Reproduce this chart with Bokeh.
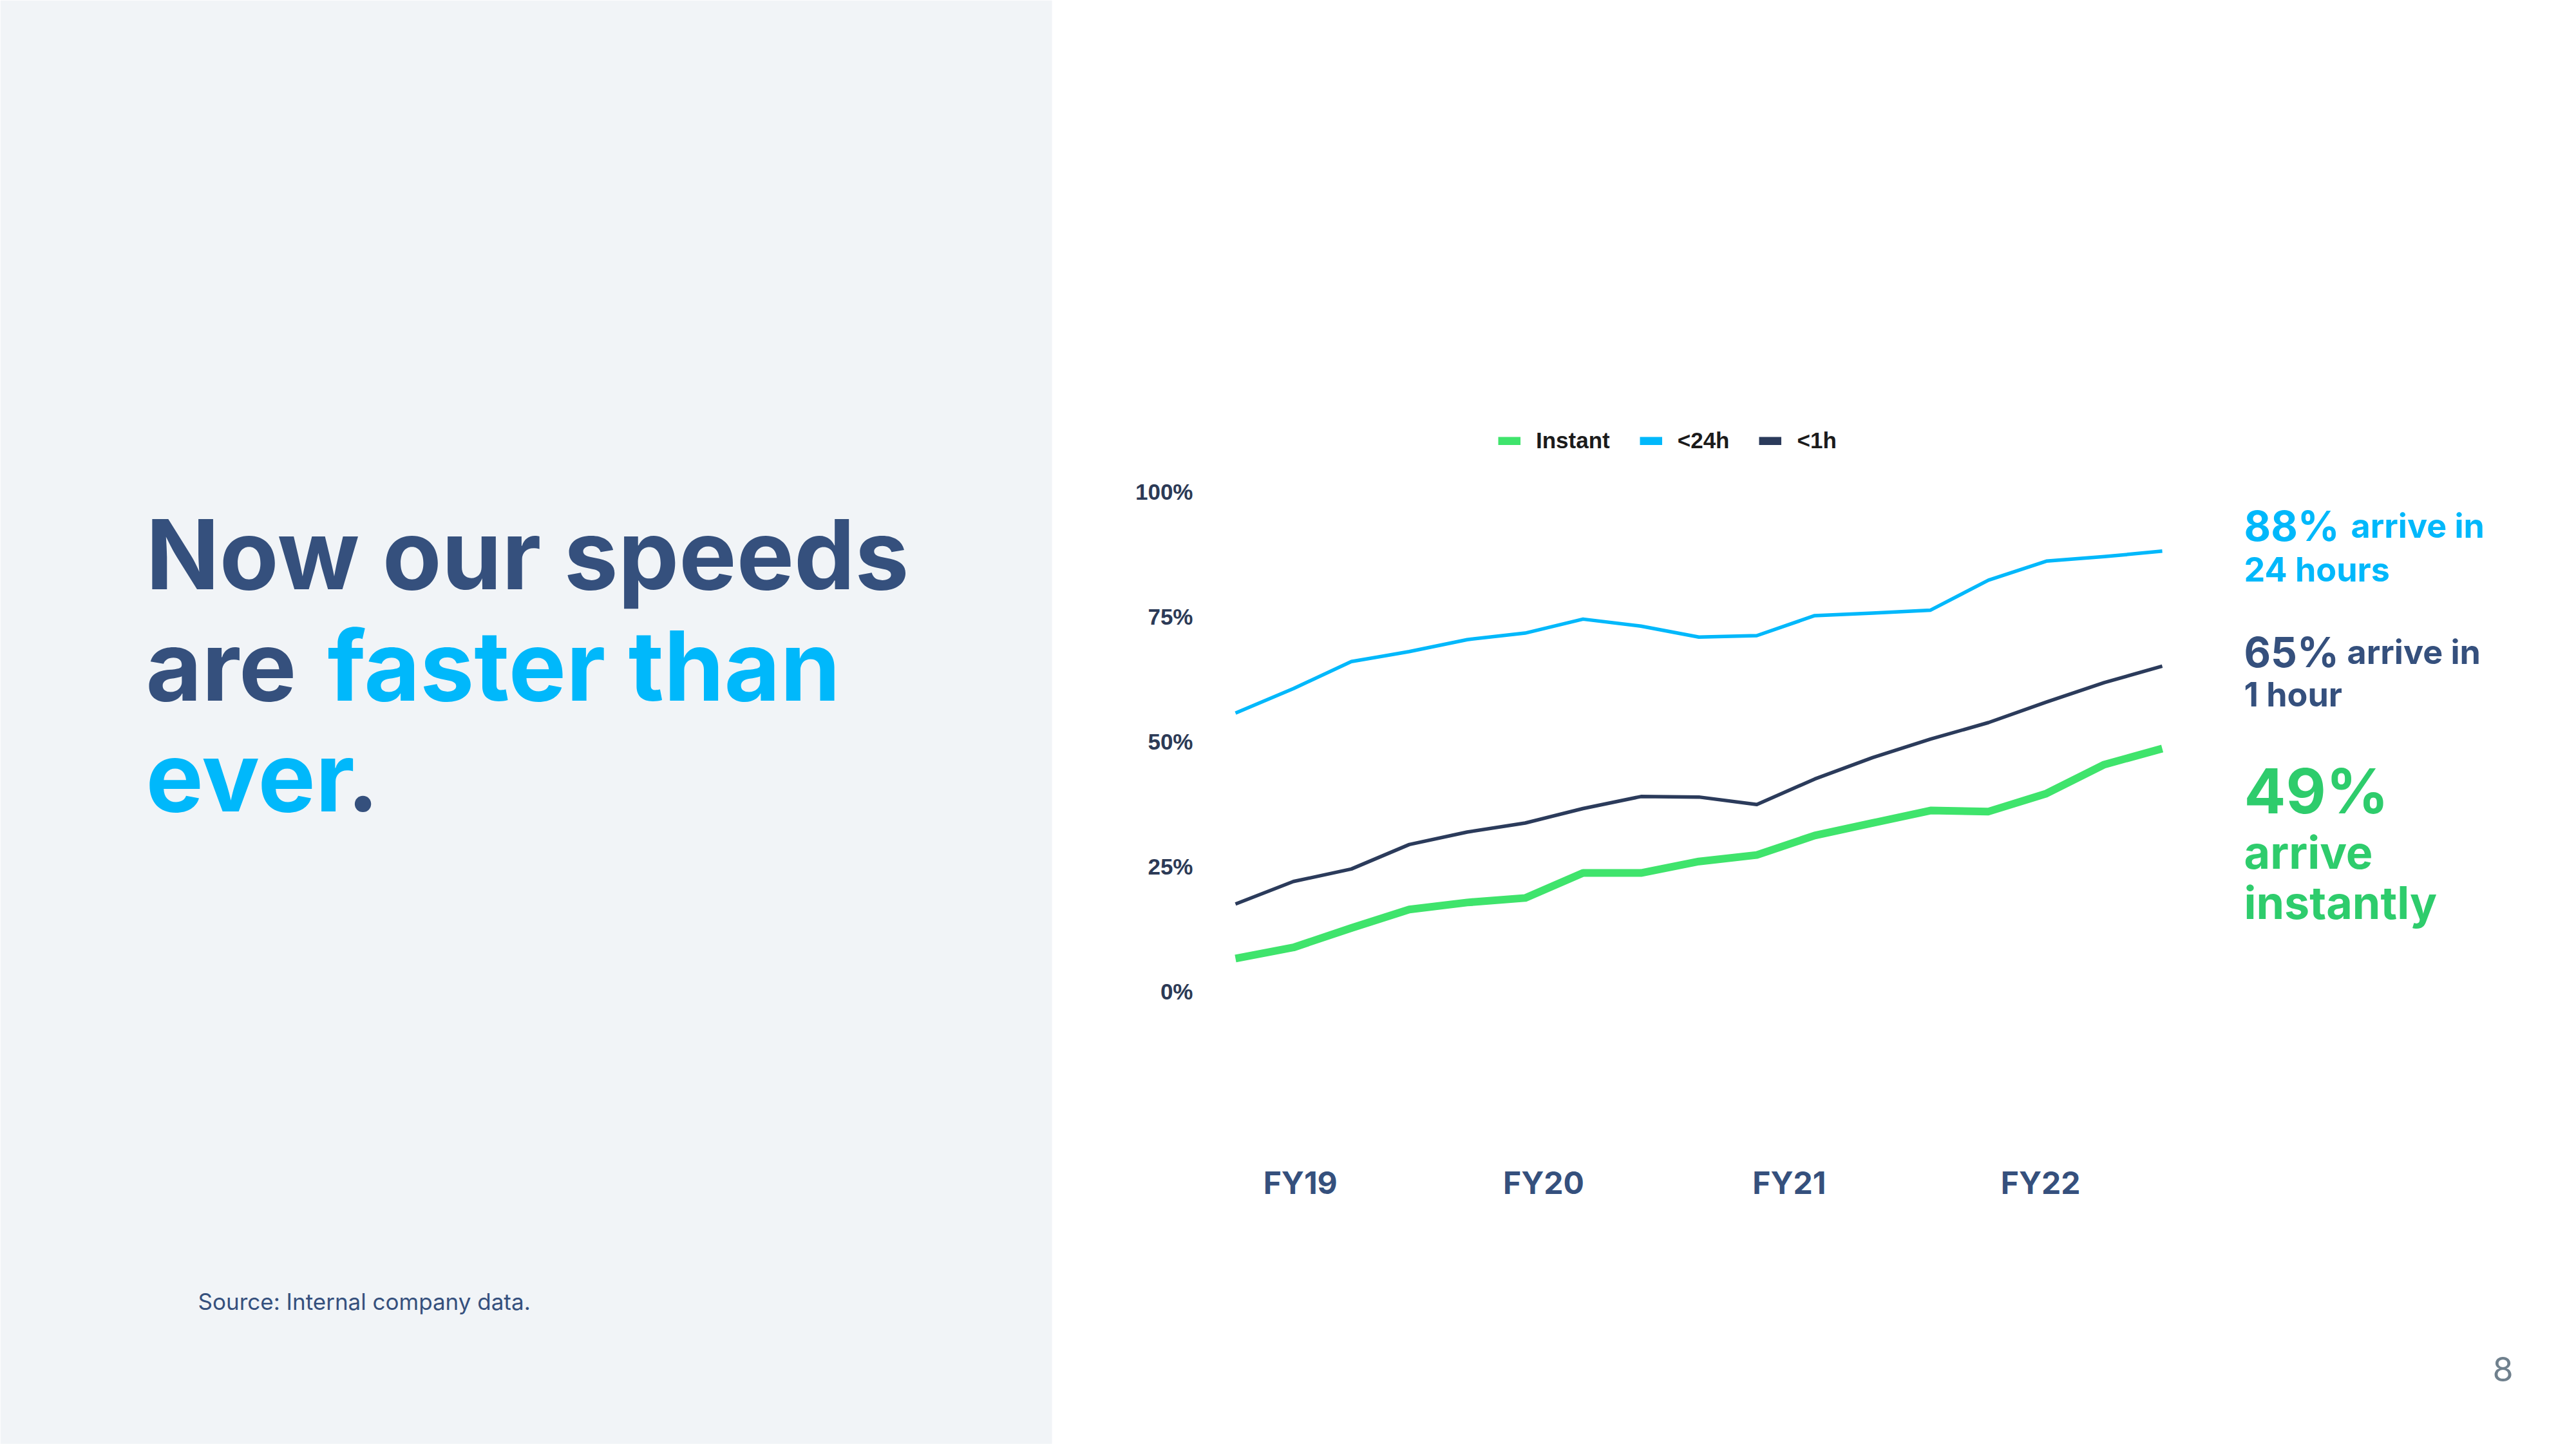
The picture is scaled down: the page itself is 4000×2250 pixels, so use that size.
from bokeh.plotting import figure
from bokeh.models import (Range1d, Label, FixedTicker, Legend, LegendItem, LinearAxis,
                          BoxAnnotation)
from bokeh.embed import file_html
from bokeh.resources import INLINE

# ---------------- data ----------------
quarters = list(range(17))
instant = [6.6, 8.8, 12.7, 16.4, 17.8, 18.7, 23.7, 23.7, 26.0, 27.3, 31.2, 33.7, 36.2, 36.0, 39.6, 45.4, 48.6]
within_24h = [55.7, 60.6, 66.0, 68.0, 70.4, 71.7, 74.5, 73.1, 70.9, 71.2, 75.2, 75.7, 76.3, 82.3, 86.1, 87.0, 88.1]
within_1h = [17.5, 22.0, 24.5, 29.4, 31.9, 33.7, 36.6, 39.0, 38.9, 37.4, 42.5, 46.8, 50.5, 53.8, 57.9, 61.8, 65.1]
series_names = ["Instant", "<24h", "<1h"]
y_ticks = [0, 25, 50, 75, 100]
y_tick_labels = ["0%", "25%", "50%", "75%", "100%"]
fy_tick_pos = [1.12, 5.32, 9.56, 13.9]
fy_labels = ["FY19", "FY20", "FY21", "FY22"]

# ---------------- colours ----------------
DARK = "#35507d"
BLUE = "#00b8fb"
GREEN_LINE = "#3fe46c"
GREEN_TEXT = "#2ecc6c"
NAVY_LINE = "#2b3b5b"
PANEL_BG = "#f1f4f7"

W, H = 3992, 2242
HEAD = "Inter"

# page canvas in pixel-like layout units (y down); chart drawn on its own ranges
p = figure(width=W, height=H, output_backend="svg", toolbar_location=None,
           x_range=Range1d(0, W), y_range=Range1d(H, 0), min_border=0,
           x_axis_location=None, y_axis_location=None)
p.grid.visible = False
p.outline_line_color = None
p.background_fill_color = "white"
p.border_fill_color = "white"

# chart scales: quarter index and percent
p.extra_x_ranges = {"q": Range1d(-21.325, 23.060)}
p.extra_y_ranges = {"pct": Range1d(-90.59, 198.32)}

p.add_layout(BoxAnnotation(left=0, right=1633, top=0, bottom=H, fill_color=PANEL_BG,
                           fill_alpha=1, line_color=None, level="underlay"))

series = [instant, within_24h, within_1h]
colors = [GREEN_LINE, BLUE, NAVY_LINE]
widths = [12, 5.5, 5.5]

# legend proxies: hidden renderers of the same series, thick uniform swatches
proxies = []
for ys, c in zip(series, colors):
    proxies.append(p.line(quarters, ys, line_color=c, line_width=13, line_cap="butt",
                          x_range_name="q", y_range_name="pct", visible=False))

# visible series (draw order: <24h, <1h, Instant on top)
for idx in (1, 2, 0):
    p.line(quarters, series[idx], line_color=colors[idx], line_width=widths[idx],
           line_join="round", x_range_name="q", y_range_name="pct")

yax = LinearAxis(x_range_name="q", y_range_name="pct", fixed_location=-0.2,
                 ticker=FixedTicker(ticks=y_ticks),
                 major_label_overrides={t: l for t, l in zip(y_ticks, y_tick_labels)},
                 major_label_text_font="Liberation Sans", major_label_text_font_style="bold",
                 major_label_text_font_size="35px", major_label_text_color="#2c3a56",
                 major_label_standoff=48)
xax = LinearAxis(x_range_name="q", y_range_name="pct", fixed_location=-28,
                 ticker=FixedTicker(ticks=fy_tick_pos),
                 major_label_overrides={t: l for t, l in zip(fy_tick_pos, fy_labels)},
                 major_label_text_font=HEAD, major_label_text_font_style="bold",
                 major_label_text_font_size="48px", major_label_text_color=DARK,
                 major_label_standoff=50)
for ax in (xax, yax):
    ax.axis_line_color = None
    ax.major_tick_line_color = None
    ax.minor_tick_line_color = None
    ax.major_tick_out = 0
    ax.major_tick_in = 0
p.add_layout(yax, "left")
p.add_layout(xax, "below")

legend = Legend(items=[LegendItem(label=n, renderers=[r]) for n, r in zip(series_names, proxies)],
                orientation="horizontal", location=(2326, 1538), click_policy="none",
                border_line_color=None, background_fill_alpha=0,
                padding=0, margin=0, spacing=46, label_standoff=24,
                glyph_width=35, glyph_height=13,
                label_text_font="Liberation Sans", label_text_font_style="bold",
                label_text_font_size="35px", label_text_color="#1b1b1b")
p.add_layout(legend)


def lab(txt, x, y, size, color, style="bold", font=HEAD):
    p.add_layout(Label(x=x, y=y, text=txt, text_font=font, text_font_size=f"{size}px",
                       text_font_style=style, text_color=color, text_baseline="alphabetic",
                       text_align="left"))


# headline (left panel)
lab("Now our speeds", 226, 860, 150, DARK)
lab("are", 226, 1033, 150, DARK)
lab("faster than", 508, 1033, 150, BLUE)
lab("ever", 226, 1205, 150, BLUE)
lab(".", 538, 1205, 150, DARK)
lab("Source: Internal company data.", 307, 2020, 35, DARK, style="normal")

# right-hand callouts
lab("88%", 3484, 816, 64, BLUE)
lab("arrive in", 3650, 816, 52, BLUE)
lab("24 hours", 3484, 884, 52, BLUE)
lab("65%", 3484, 1012, 64, DARK)
lab("arrive in", 3644, 1012, 52, DARK)
lab("1 hour", 3484, 1078, 52, DARK)
lab("49%", 3484, 1227, 96, GREEN_TEXT)
lab("arrive", 3484, 1323, 70, GREEN_TEXT)
lab("instantly", 3484, 1401, 70, GREEN_TEXT)
lab("8", 3870, 2125, 52, "#6f808d", style="normal")

open("out.html", "w").write(file_html(p, INLINE))
